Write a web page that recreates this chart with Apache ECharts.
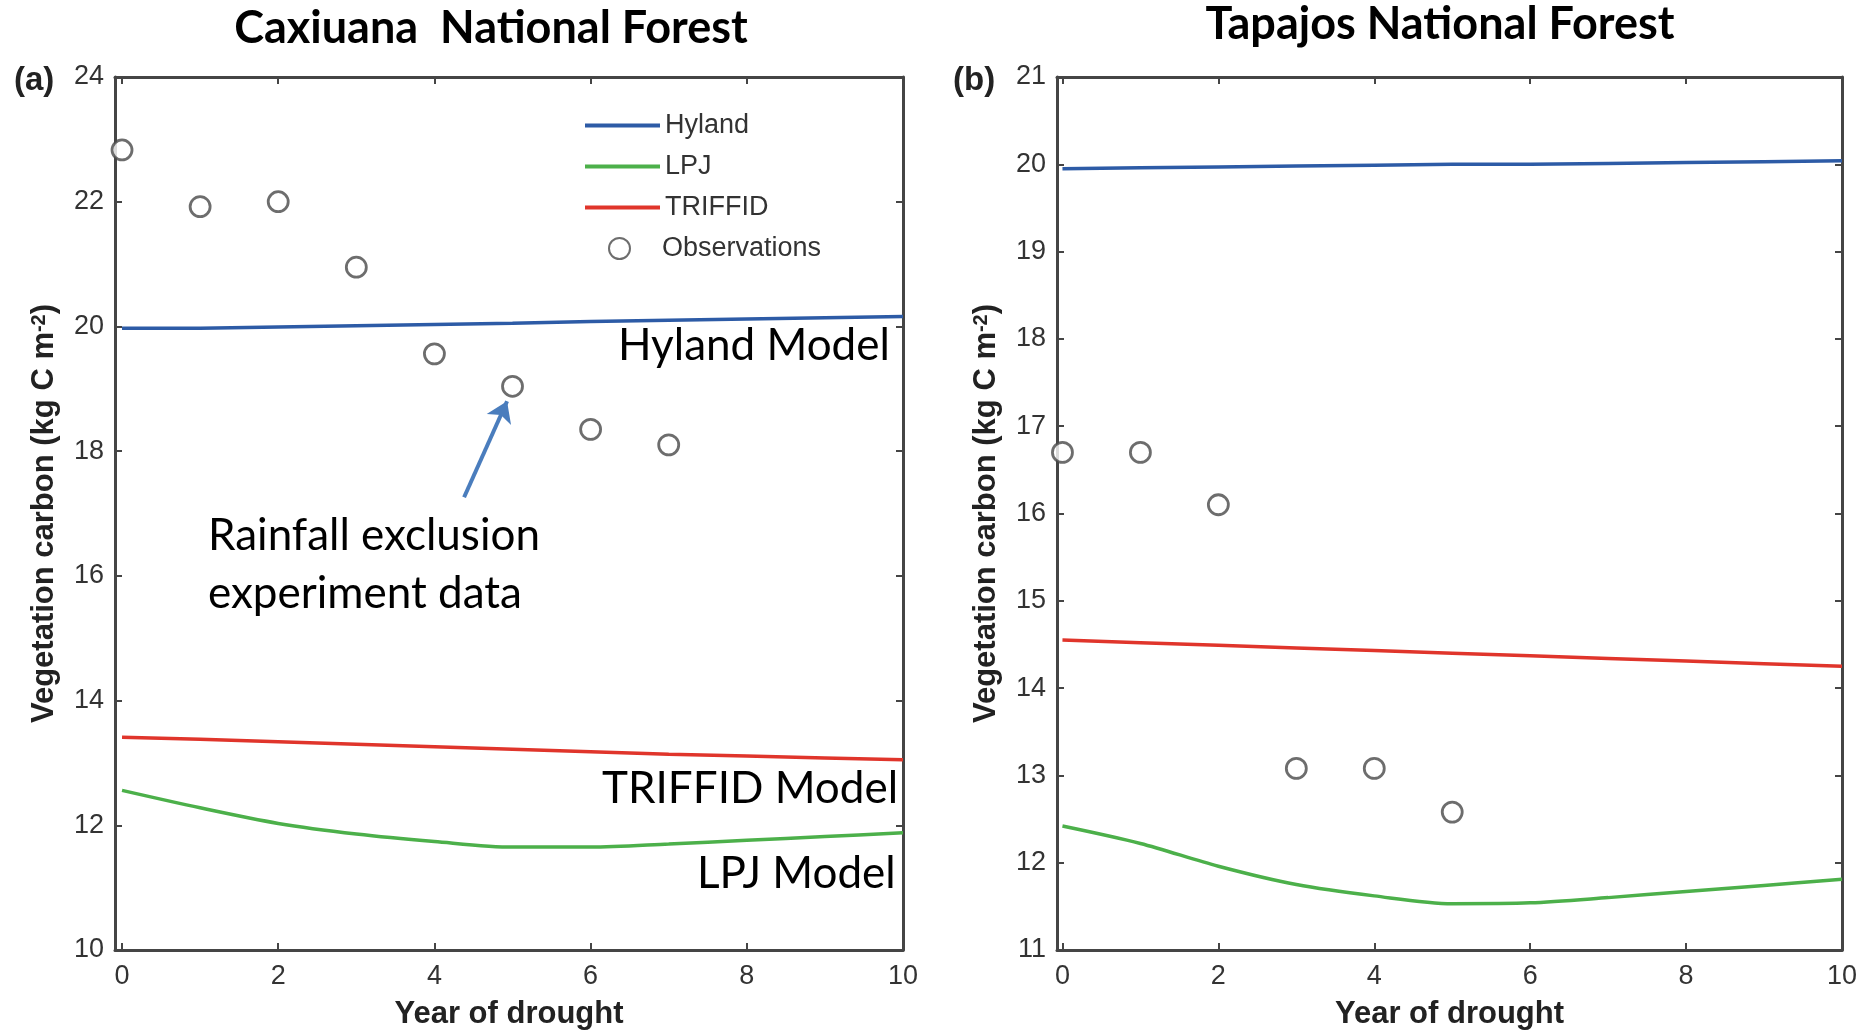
<!DOCTYPE html>
<html>
<head>
<meta charset="utf-8">
<script src="https://cdn.jsdelivr.net/npm/echarts@6/dist/echarts.min.js"></script>
<style>
  html, body { margin: 0; padding: 0; background: #fff; }
  #main { width: 1875px; height: 1032px; }
</style>
</head>
<body>
<div id="main"></div>
<script>
// data
var years = [0, 1, 2, 3, 4, 5, 6, 7, 8, 9, 10];
var xTicks = [0, 2, 4, 6, 8, 10];

// (a) Caxiuana
var caxHyland  = [19.97, 19.97, 19.99, 20.01, 20.03, 20.05, 20.08, 20.10, 20.12, 20.14, 20.16];
var caxLpj     = [12.56, 12.28, 12.03, 11.86, 11.74, 11.65, 11.65, 11.70, 11.76, 11.82, 11.88];
var caxTriffid = [13.41, 13.38, 13.34, 13.30, 13.26, 13.22, 13.18, 13.14, 13.11, 13.08, 13.05];
var caxObsYears = [0, 1, 2, 3, 4, 5, 6, 7];
var caxObs      = [22.83, 21.92, 22.0, 20.95, 19.56, 19.04, 18.35, 18.1];

// (b) Tapajos
var tapHyland  = [19.95, 19.96, 19.97, 19.98, 19.99, 20.0, 20.0, 20.01, 20.02, 20.03, 20.04];
var tapLpj     = [12.42, 12.22, 11.96, 11.75, 11.62, 11.53, 11.54, 11.60, 11.67, 11.74, 11.81];
var tapTriffid = [14.55, 14.52, 14.49, 14.46, 14.43, 14.40, 14.37, 14.34, 14.31, 14.28, 14.25];
var tapObsYears = [0, 1, 2, 3, 4, 5];
var tapObs      = [16.7, 16.7, 16.1, 13.08, 13.08, 12.58];

// arrow pointing at year-5 observation (data coords)
var arrowFrom = [4.38, 17.26];
var arrowTo   = [4.93, 18.8];

var colors = { Hyland: '#2d5ba6', LPJ: '#4cb04a', TRIFFID: '#e0352b', obs: '#484848' };

function pairs(xs, ys) {
  return ys.map(function (v, i) { return [xs[i], v]; });
}

var labelFont = 'Liberation Sans, Arial, sans-serif';
var annoFont = 'Lato, "Open Sans", sans-serif';
var axisColor = '#454545';

function xAx(grid, min, pos) {
  var bottom = pos === 'bottom';
  return {
    gridIndex: grid, type: 'value', min: min, max: 10, position: pos,
    name: bottom ? 'Year of drought' : '',
    nameLocation: 'middle', nameGap: 49,
    nameTextStyle: { fontSize: 31, fontWeight: 'bold', fontFamily: labelFont, color: '#222' },
    axisLine: { show: true, onZero: false, lineStyle: { color: axisColor, width: 3 } },
    axisTick: { show: true, inside: true, length: 7, customValues: xTicks, lineStyle: { color: axisColor, width: 2 } },
    axisLabel: { show: bottom, customValues: xTicks, fontSize: 27, fontFamily: labelFont, color: '#333', margin: 13 },
    splitLine: { show: false }
  };
}

function yAx(grid, min, max, step, pos) {
  var left = pos === 'left';
  return {
    gridIndex: grid, type: 'value', min: min, max: max, interval: step, position: pos,
    name: left ? 'Vegetation carbon (kg C m{sup|-2})' : '',
    nameLocation: 'middle', nameGap: 55,
    nameTextStyle: {
      fontSize: 31, fontWeight: 'bold', fontFamily: labelFont, color: '#222',
      rich: { sup: { fontSize: 20, fontWeight: 'bold', fontFamily: labelFont, color: '#222', verticalAlign: 'top' } }
    },
    axisLine: { show: true, onZero: false, lineStyle: { color: axisColor, width: 3 } },
    axisTick: { show: true, inside: true, length: 7, lineStyle: { color: axisColor, width: 2 } },
    axisLabel: { show: left, fontSize: 27, fontFamily: labelFont, color: '#333', margin: 11 },
    splitLine: { show: false }
  };
}

function lineSeries(name, xi, yi, data, smooth) {
  return {
    name: name, type: 'line', xAxisIndex: xi, yAxisIndex: yi,
    data: pairs(years, data), symbol: 'none', smooth: smooth || false,
    lineStyle: { color: colors[name], width: 3.5 }, itemStyle: { color: colors[name] },
    z: 3
  };
}

function obsSeries(xi, yi, xs, ys, extra) {
  var s = {
    name: 'Observations', type: 'scatter', xAxisIndex: xi, yAxisIndex: yi,
    data: pairs(xs, ys), symbol: 'circle', symbolSize: 20,
    itemStyle: { color: '#fff', borderColor: colors.obs, borderWidth: 2.8 },
    z: 5
  };
  if (extra) s.markLine = extra;
  return s;
}

function anno(text, x, y) {
  return {
    type: 'text', x: x, y: y,
    style: { text: text, font: '44px ' + annoFont, fill: '#000', align: 'left', verticalAlign: 'middle' }
  };
}

var chart = echarts.init(document.getElementById('main'));
chart.setOption({
  backgroundColor: '#fff',
  animation: false,
  title: [
    { text: 'Caxiuana  National Forest', left: 486, top: 1, textAlign: 'center',
      textStyle: { fontSize: 45, fontWeight: 'bold', fontFamily: annoFont, color: '#000' } },
    { text: 'Tapajos National Forest', left: 1435, top: -3, textAlign: 'center',
      textStyle: { fontSize: 45, fontWeight: 'bold', fontFamily: annoFont, color: '#000' } }
  ],
  grid: [
    { left: 115, top: 77, width: 788, height: 873, outerBoundsMode: 'none' },
    { left: 1057, top: 77, width: 785, height: 873, outerBoundsMode: 'none' }
  ],
  legend: [
    {
      data: [{ name: 'Hyland', icon: 'rect' }, { name: 'LPJ', icon: 'rect' }, { name: 'TRIFFID', icon: 'rect' }],
      orient: 'vertical', left: 580, top: 107,
      itemWidth: 75, itemHeight: 4, itemGap: 14,
      textStyle: { fontSize: 27, fontFamily: labelFont, color: '#333' }
    },
    {
      data: ['Observations'],
      orient: 'vertical', left: 603, top: 230,
      itemWidth: 75, itemHeight: 21,
      textStyle: { fontSize: 27, fontFamily: labelFont, color: '#333' }
    }
  ],
  xAxis: [xAx(0, -0.09, 'bottom'), xAx(0, -0.09, 'top'), xAx(1, -0.07, 'bottom'), xAx(1, -0.07, 'top')],
  yAxis: [yAx(0, 10, 24, 2, 'left'), yAx(0, 10, 24, 2, 'right'), yAx(1, 11, 21, 1, 'left'), yAx(1, 11, 21, 1, 'right')],
  series: [
    lineSeries('Hyland', 0, 0, caxHyland),
    lineSeries('LPJ', 0, 0, caxLpj, 0.3),
    lineSeries('TRIFFID', 0, 0, caxTriffid),
    obsSeries(0, 0, caxObsYears, caxObs, {
      silent: true, symbol: ['none', 'arrow'], symbolSize: 20,
      label: { show: false },
      lineStyle: { color: '#4a7dbd', width: 4, type: 'solid' },
      data: [[{ coord: arrowFrom }, { coord: arrowTo }]]
    }),
    lineSeries('Hyland', 2, 2, tapHyland),
    lineSeries('LPJ', 2, 2, tapLpj, 0.3),
    lineSeries('TRIFFID', 2, 2, tapTriffid),
    obsSeries(2, 2, tapObsYears, tapObs)
  ],
  graphic: [
    { type: 'text', x: 14, y: 81, style: { text: '(a)', font: 'bold 33px ' + labelFont, fill: '#222', align: 'left', verticalAlign: 'middle' } },
    { type: 'text', x: 953, y: 81, style: { text: '(b)', font: 'bold 33px ' + labelFont, fill: '#222', align: 'left', verticalAlign: 'middle' } },
    anno('Hyland Model', 618, 346),
    anno('TRIFFID Model', 602, 789),
    anno('LPJ Model', 697, 874),
    anno('Rainfall exclusion', 208, 536),
    anno('experiment data', 208, 594)
  ]
});
</script>
</body>
</html>
